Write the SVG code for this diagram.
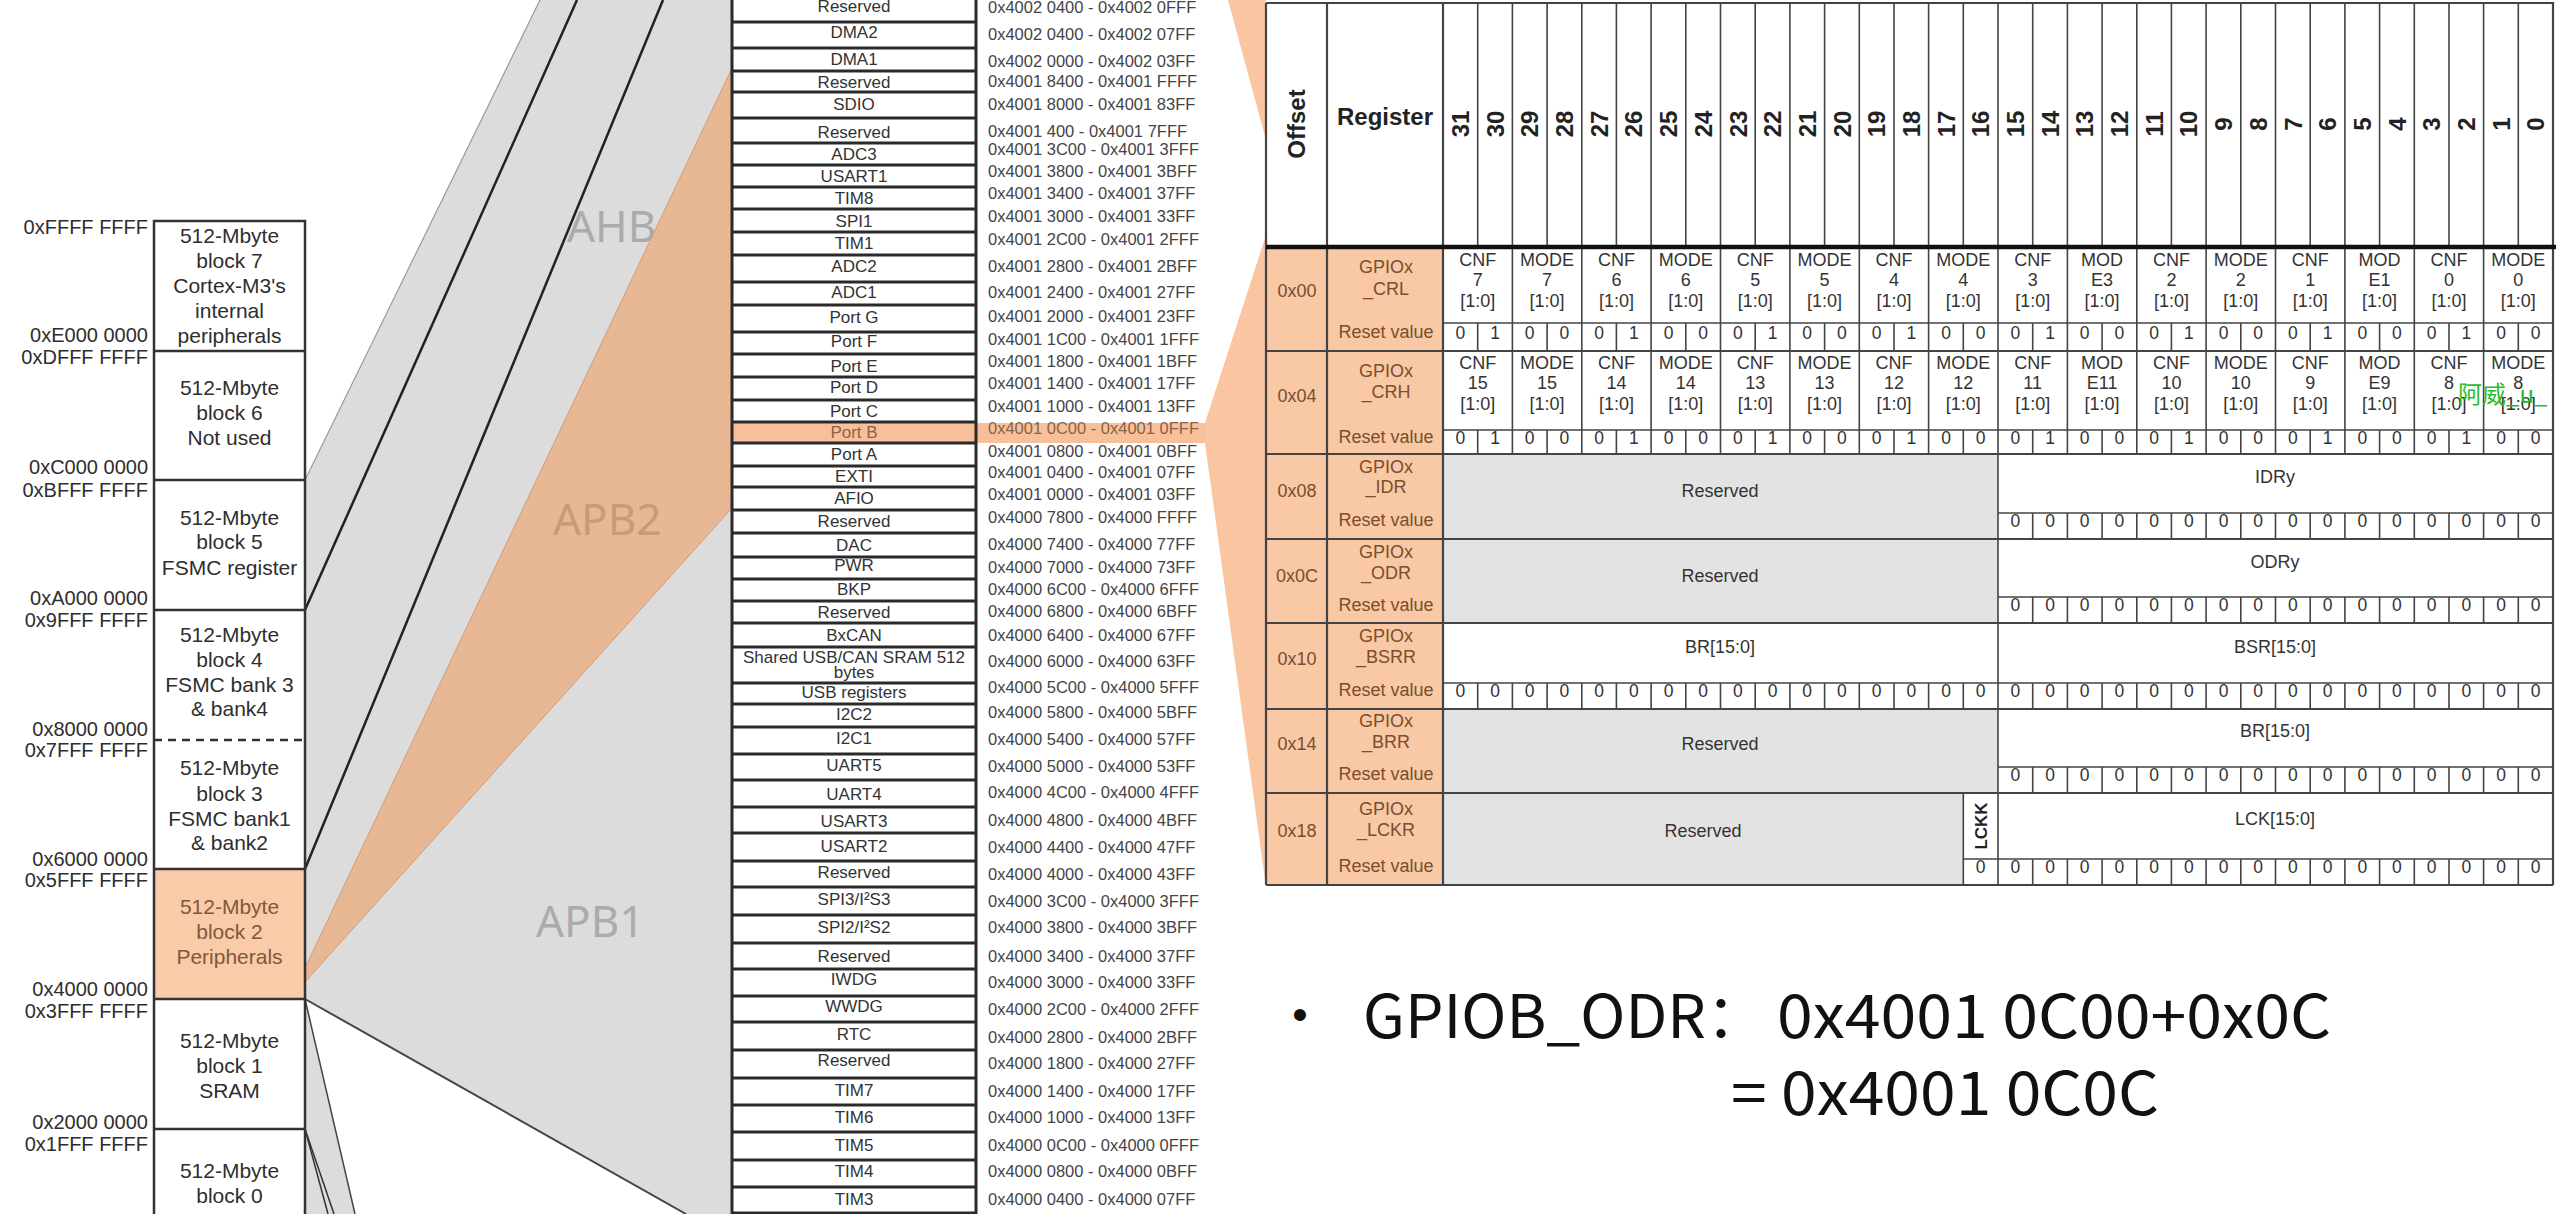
<svg xmlns="http://www.w3.org/2000/svg" width="2560" height="1214" viewBox="0 0 2560 1214">
<style>
text{font-family:"Liberation Sans",Arial,sans-serif}
.mm{font-size:21px;fill:#2e2e2e;text-anchor:middle}
.mb{font-size:21px;fill:#7f583c;text-anchor:middle}
.ma{font-size:20px;fill:#2e2e2e;text-anchor:end}
.bus{font-family:"Noto Sans","Open Sans",sans-serif;font-size:44px;fill:#ababab}
.pn{font-size:17px;fill:#333;text-anchor:middle}
.pa{font-size:16.5px;fill:#444}
.pb{font-size:17px;fill:#8a6246;text-anchor:middle}
.pab{font-size:16.5px;fill:#8a6246}
.rh{font-size:24px;font-weight:bold;fill:#222;text-anchor:middle}
.ft{font-size:18px;fill:#333;text-anchor:middle}
.br{font-size:18px;fill:#7a4e30;text-anchor:middle}
.rv{font-size:17.5px;fill:#333;text-anchor:middle}
.big{font-family:"Noto Sans CJK SC","Noto Sans",sans-serif;font-size:60px;fill:#111}
.tl{fill:none;stroke:#444;stroke-width:1.6}
.tr{fill:none;stroke:#444;stroke-width:2.2}
</style>
<rect width="2560" height="1214" fill="#fff"/>

<g id="bus-areas">
<polygon points="305,480 540,0 732,0 732,1214 686,1214 305,999" fill="#dcdcdc"/>
<polygon points="305,999 355,1214 305,1214" fill="#dcdcdc"/>
<text class="bus" x="567" y="242">AHB</text>
<text class="bus" x="536" y="937">APB1</text>
<polygon points="305,968 732,68 732,508 305,982" fill="#e8b794" stroke="#d39c76" stroke-width="1"/>
<text class="bus" x="553" y="535" style="fill:#c99b79">APB2</text>
</g>

<g id="connectors" fill="none">
<line x1="305" y1="480" x2="540" y2="0" stroke="#9a9a9a" stroke-width="1.2"/>
<line x1="305" y1="610" x2="577" y2="0" stroke="#222" stroke-width="2.5"/>
<line x1="305" y1="869" x2="663" y2="0" stroke="#222" stroke-width="2.5"/>
<line x1="305" y1="999" x2="686" y2="1214" stroke="#444" stroke-width="2"/>
<line x1="305" y1="999" x2="355" y2="1214" stroke="#444" stroke-width="1.5"/>
<line x1="305" y1="1129" x2="328" y2="1214" stroke="#333" stroke-width="1.5"/>
<line x1="305" y1="1129" x2="334" y2="1214" stroke="#333" stroke-width="1.5"/>
</g>

<g id="memory-map">
<rect x="154" y="869" width="151" height="130" fill="#facba9"/>
<path d="M154 1220V221H305V1220M154 351H305M154 480H305M154 610H305M154 869H305M154 999H305M154 1129H305" fill="none" stroke="#333" stroke-width="2.5"/>
<line x1="154" y1="740" x2="305" y2="740" stroke="#333" stroke-width="2.5" stroke-dasharray="8 6"/>
<g id="block7"><text class="mm" x="229.5" y="243">512-Mbyte</text><text class="mm" x="229.5" y="268">block 7</text><text class="mm" x="229.5" y="293">Cortex-M3's</text><text class="mm" x="229.5" y="318">internal</text><text class="mm" x="229.5" y="343">peripherals</text></g>
<g id="block6"><text class="mm" x="229.5" y="395">512-Mbyte</text><text class="mm" x="229.5" y="420">block 6</text><text class="mm" x="229.5" y="445">Not used</text></g>
<g id="block5"><text class="mm" x="229.5" y="525">512-Mbyte</text><text class="mm" x="229.5" y="549">block 5</text><text class="mm" x="229.5" y="575">FSMC register</text></g>
<g id="block4"><text class="mm" x="229.5" y="642">512-Mbyte</text><text class="mm" x="229.5" y="667">block 4</text><text class="mm" x="229.5" y="692">FSMC bank 3</text><text class="mm" x="229.5" y="716">&amp; bank4</text></g>
<g id="block3"><text class="mm" x="229.5" y="775">512-Mbyte</text><text class="mm" x="229.5" y="801">block 3</text><text class="mm" x="229.5" y="826">FSMC bank1</text><text class="mm" x="229.5" y="850">&amp; bank2</text></g>
<g id="block2"><text class="mb" x="229.5" y="914">512-Mbyte</text><text class="mb" x="229.5" y="939">block 2</text><text class="mb" x="229.5" y="964">Peripherals</text></g>
<g id="block1"><text class="mm" x="229.5" y="1048">512-Mbyte</text><text class="mm" x="229.5" y="1073">block 1</text><text class="mm" x="229.5" y="1098">SRAM</text></g>
<g id="block0"><text class="mm" x="229.5" y="1178">512-Mbyte</text><text class="mm" x="229.5" y="1203">block 0</text></g>
<g id="mem-addresses">
<text class="ma" x="148" y="234">0xFFFF FFFF</text>
<text class="ma" x="148" y="342">0xE000 0000</text><text class="ma" x="148" y="364">0xDFFF FFFF</text>
<text class="ma" x="148" y="474">0xC000 0000</text><text class="ma" x="148" y="497">0xBFFF FFFF</text>
<text class="ma" x="148" y="605">0xA000 0000</text><text class="ma" x="148" y="627">0x9FFF FFFF</text>
<text class="ma" x="148" y="736">0x8000 0000</text><text class="ma" x="148" y="757">0x7FFF FFFF</text>
<text class="ma" x="148" y="866">0x6000 0000</text><text class="ma" x="148" y="887">0x5FFF FFFF</text>
<text class="ma" x="148" y="996">0x4000 0000</text><text class="ma" x="148" y="1018">0x3FFF FFFF</text>
<text class="ma" x="148" y="1129">0x2000 0000</text><text class="ma" x="148" y="1151">0x1FFF FFFF</text>
</g>
</g>

<g id="peripheral-table">
<rect x="732" y="-5" width="244" height="1225" fill="#fff"/>
<rect x="732" y="423" width="475" height="20" fill="#f7c09b"/>
<path d="M732 22H976M732 48H976M732 71H976M732 92H976M732 118H976M732 143H976M732 165H976M732 187H976M732 209H976M732 232H976M732 255H976M732 282H976M732 305H976M732 332H976M732 354H976M732 377H976M732 400H976M732 422H976M732 443H976M732 466H976M732 487H976M732 510H976M732 533H976M732 557H976M732 579H976M732 601H976M732 623H976M732 647H976M732 683H976M732 704H976M732 727H976M732 754H976M732 780H976M732 807H976M732 833H976M732 861H976M732 887H976M732 915H976M732 943H976M732 969H976M732 996H976M732 1022H976M732 1050H976M732 1078H976M732 1105H976M732 1132H976M732 1160H976M732 1187H976M732 1213H976M732 -5V1220M976 -5V1220" fill="none" stroke="#2a2a2a" stroke-width="3"/>
<g id="periph-names">
<text class="pn" x="854" y="12">Reserved</text>
<text class="pn" x="854" y="38">DMA2</text>
<text class="pn" x="854" y="65">DMA1</text>
<text class="pn" x="854" y="88">Reserved</text>
<text class="pn" x="854" y="110">SDIO</text>
<text class="pn" x="854" y="138">Reserved</text>
<text class="pn" x="854" y="160">ADC3</text>
<text class="pn" x="854" y="182">USART1</text>
<text class="pn" x="854" y="204">TIM8</text>
<text class="pn" x="854" y="227">SPI1</text>
<text class="pn" x="854" y="249">TIM1</text>
<text class="pn" x="854" y="272">ADC2</text>
<text class="pn" x="854" y="298">ADC1</text>
<text class="pn" x="854" y="323">Port G</text>
<text class="pn" x="854" y="347">Port F</text>
<text class="pn" x="854" y="372">Port E</text>
<text class="pn" x="854" y="393">Port D</text>
<text class="pn" x="854" y="417">Port C</text>
<text class="pb" x="854" y="438">Port B</text>
<text class="pn" x="854" y="460">Port A</text>
<text class="pn" x="854" y="482">EXTI</text>
<text class="pn" x="854" y="504">AFIO</text>
<text class="pn" x="854" y="527">Reserved</text>
<text class="pn" x="854" y="551">DAC</text>
<text class="pn" x="854" y="571">PWR</text>
<text class="pn" x="854" y="595">BKP</text>
<text class="pn" x="854" y="618">Reserved</text>
<text class="pn" x="854" y="641">BxCAN</text>
<text class="pn" x="854" y="663">Shared USB/CAN SRAM 512</text>
<text class="pn" x="854" y="678">bytes</text>
<text class="pn" x="854" y="698">USB registers</text>
<text class="pn" x="854" y="720">I2C2</text>
<text class="pn" x="854" y="744">I2C1</text>
<text class="pn" x="854" y="771">UART5</text>
<text class="pn" x="854" y="800">UART4</text>
<text class="pn" x="854" y="827">USART3</text>
<text class="pn" x="854" y="852">USART2</text>
<text class="pn" x="854" y="878">Reserved</text>
<text class="pn" x="854" y="905">SPI3/I²S3</text>
<text class="pn" x="854" y="933">SPI2/I²S2</text>
<text class="pn" x="854" y="962">Reserved</text>
<text class="pn" x="854" y="985">IWDG</text>
<text class="pn" x="854" y="1012">WWDG</text>
<text class="pn" x="854" y="1040">RTC</text>
<text class="pn" x="854" y="1066">Reserved</text>
<text class="pn" x="854" y="1096">TIM7</text>
<text class="pn" x="854" y="1123">TIM6</text>
<text class="pn" x="854" y="1151">TIM5</text>
<text class="pn" x="854" y="1177">TIM4</text>
<text class="pn" x="854" y="1205">TIM3</text>
</g>
<g id="periph-addresses">
<text class="pa" x="988" y="13">0x4002 0400 - 0x4002 0FFF</text>
<text class="pa" x="988" y="40">0x4002 0400 - 0x4002 07FF</text>
<text class="pa" x="988" y="67">0x4002 0000 - 0x4002 03FF</text>
<text class="pa" x="988" y="87">0x4001 8400 - 0x4001 FFFF</text>
<text class="pa" x="988" y="110">0x4001 8000 - 0x4001 83FF</text>
<text class="pa" x="988" y="137">0x4001 400 - 0x4001 7FFF</text>
<text class="pa" x="988" y="155">0x4001 3C00 - 0x4001 3FFF</text>
<text class="pa" x="988" y="177">0x4001 3800 - 0x4001 3BFF</text>
<text class="pa" x="988" y="199">0x4001 3400 - 0x4001 37FF</text>
<text class="pa" x="988" y="222">0x4001 3000 - 0x4001 33FF</text>
<text class="pa" x="988" y="245">0x4001 2C00 - 0x4001 2FFF</text>
<text class="pa" x="988" y="272">0x4001 2800 - 0x4001 2BFF</text>
<text class="pa" x="988" y="298">0x4001 2400 - 0x4001 27FF</text>
<text class="pa" x="988" y="322">0x4001 2000 - 0x4001 23FF</text>
<text class="pa" x="988" y="345">0x4001 1C00 - 0x4001 1FFF</text>
<text class="pa" x="988" y="367">0x4001 1800 - 0x4001 1BFF</text>
<text class="pa" x="988" y="389">0x4001 1400 - 0x4001 17FF</text>
<text class="pa" x="988" y="412">0x4001 1000 - 0x4001 13FF</text>
<text class="pab" x="988" y="434">0x4001 0C00 - 0x4001 0FFF</text>
<text class="pa" x="988" y="457">0x4001 0800 - 0x4001 0BFF</text>
<text class="pa" x="988" y="478">0x4001 0400 - 0x4001 07FF</text>
<text class="pa" x="988" y="500">0x4001 0000 - 0x4001 03FF</text>
<text class="pa" x="988" y="523">0x4000 7800 - 0x4000 FFFF</text>
<text class="pa" x="988" y="550">0x4000 7400 - 0x4000 77FF</text>
<text class="pa" x="988" y="573">0x4000 7000 - 0x4000 73FF</text>
<text class="pa" x="988" y="595">0x4000 6C00 - 0x4000 6FFF</text>
<text class="pa" x="988" y="617">0x4000 6800 - 0x4000 6BFF</text>
<text class="pa" x="988" y="641">0x4000 6400 - 0x4000 67FF</text>
<text class="pa" x="988" y="667">0x4000 6000 - 0x4000 63FF</text>
<text class="pa" x="988" y="693">0x4000 5C00 - 0x4000 5FFF</text>
<text class="pa" x="988" y="718">0x4000 5800 - 0x4000 5BFF</text>
<text class="pa" x="988" y="745">0x4000 5400 - 0x4000 57FF</text>
<text class="pa" x="988" y="772">0x4000 5000 - 0x4000 53FF</text>
<text class="pa" x="988" y="798">0x4000 4C00 - 0x4000 4FFF</text>
<text class="pa" x="988" y="826">0x4000 4800 - 0x4000 4BFF</text>
<text class="pa" x="988" y="853">0x4000 4400 - 0x4000 47FF</text>
<text class="pa" x="988" y="880">0x4000 4000 - 0x4000 43FF</text>
<text class="pa" x="988" y="907">0x4000 3C00 - 0x4000 3FFF</text>
<text class="pa" x="988" y="933">0x4000 3800 - 0x4000 3BFF</text>
<text class="pa" x="988" y="962">0x4000 3400 - 0x4000 37FF</text>
<text class="pa" x="988" y="988">0x4000 3000 - 0x4000 33FF</text>
<text class="pa" x="988" y="1015">0x4000 2C00 - 0x4000 2FFF</text>
<text class="pa" x="988" y="1043">0x4000 2800 - 0x4000 2BFF</text>
<text class="pa" x="988" y="1069">0x4000 1800 - 0x4000 27FF</text>
<text class="pa" x="988" y="1097">0x4000 1400 - 0x4000 17FF</text>
<text class="pa" x="988" y="1123">0x4000 1000 - 0x4000 13FF</text>
<text class="pa" x="988" y="1151">0x4000 0C00 - 0x4000 0FFF</text>
<text class="pa" x="988" y="1177">0x4000 0800 - 0x4000 0BFF</text>
<text class="pa" x="988" y="1205">0x4000 0400 - 0x4000 07FF</text>
</g>
</g>

<g id="portb-funnel">
<polygon points="1205,423 1266,235 1266,887 1205,443" fill="#f9c6a1"/>
<polygon points="1228,0 1266,0 1266,140" fill="#f9c6a1"/>
</g>

<g id="register-table">
<rect x="1266" y="3" width="1287" height="882" fill="#fff"/>
<rect x="1266" y="247" width="177" height="638" fill="#f9c8a4"/>
<rect x="1443" y="454" width="555" height="85" fill="#e3e3e3"/>
<rect x="1443" y="539" width="555" height="84" fill="#e3e3e3"/>
<rect x="1443" y="709" width="555" height="84" fill="#e3e3e3"/>
<rect x="1443" y="793" width="520.3" height="92" fill="#e3e3e3"/>
<path class="tl" d="M1477.7 3V247M1512.4 3V247M1547.1 3V247M1581.8 3V247M1616.4 3V247M1651.1 3V247M1685.8 3V247M1720.5 3V247M1755.2 3V247M1789.9 3V247M1824.6 3V247M1859.3 3V247M1894 3V247M1928.6 3V247M1963.3 3V247M1998 3V247M2032.7 3V247M2067.4 3V247M2102.1 3V247M2136.8 3V247M2171.4 3V247M2206.1 3V247M2240.8 3V247M2275.5 3V247M2310.2 3V247M2344.9 3V247M2379.6 3V247M2414.3 3V247M2449 3V247M2483.6 3V247M2518.3 3V247"/>
<path class="tl" d="M1512.4 247V454M1581.8 247V454M1651.1 247V454M1720.5 247V454M1789.9 247V454M1859.3 247V454M1928.6 247V454M1998 247V454M2067.4 247V454M2136.8 247V454M2206.1 247V454M2275.5 247V454M2344.9 247V454M2414.3 247V454M2483.6 247V454"/>
<path class="tl" d="M1477.7 323V351M1547.1 323V351M1616.4 323V351M1685.8 323V351M1755.2 323V351M1824.6 323V351M1894 323V351M1963.3 323V351M2032.7 323V351M2102.1 323V351M2171.4 323V351M2240.8 323V351M2310.2 323V351M2379.6 323V351M2449 323V351M2518.3 323V351M1477.7 430V454M1547.1 430V454M1616.4 430V454M1685.8 430V454M1755.2 430V454M1824.6 430V454M1894 430V454M1963.3 430V454M2032.7 430V454M2102.1 430V454M2171.4 430V454M2240.8 430V454M2310.2 430V454M2379.6 430V454M2449 430V454M2518.3 430V454"/>
<path class="tl" d="M1998 454V885M1963.3 793V885M1477.7 683v26M1512.4 683v26M1547.1 683v26M1581.8 683v26M1616.4 683v26M1651.1 683v26M1685.8 683v26M1720.5 683v26M1755.2 683v26M1789.9 683v26M1824.6 683v26M1859.3 683v26M1894 683v26M1928.6 683v26M1963.3 683v26"/>
<path class="tl" d="M2032.7 513v26M2032.7 597v26M2032.7 683v26M2032.7 767v26M2032.7 859v26M2067.4 513v26M2067.4 597v26M2067.4 683v26M2067.4 767v26M2067.4 859v26M2102.1 513v26M2102.1 597v26M2102.1 683v26M2102.1 767v26M2102.1 859v26M2136.8 513v26M2136.8 597v26M2136.8 683v26M2136.8 767v26M2136.8 859v26M2171.4 513v26M2171.4 597v26M2171.4 683v26M2171.4 767v26M2171.4 859v26M2206.1 513v26M2206.1 597v26M2206.1 683v26M2206.1 767v26M2206.1 859v26M2240.8 513v26M2240.8 597v26M2240.8 683v26M2240.8 767v26M2240.8 859v26M2275.5 513v26M2275.5 597v26M2275.5 683v26M2275.5 767v26M2275.5 859v26M2310.2 513v26M2310.2 597v26M2310.2 683v26M2310.2 767v26M2310.2 859v26M2344.9 513v26M2344.9 597v26M2344.9 683v26M2344.9 767v26M2344.9 859v26M2379.6 513v26M2379.6 597v26M2379.6 683v26M2379.6 767v26M2379.6 859v26M2414.3 513v26M2414.3 597v26M2414.3 683v26M2414.3 767v26M2414.3 859v26M2449 513v26M2449 597v26M2449 683v26M2449 767v26M2449 859v26M2483.6 513v26M2483.6 597v26M2483.6 683v26M2483.6 767v26M2483.6 859v26M2518.3 513v26M2518.3 597v26M2518.3 683v26M2518.3 767v26M2518.3 859v26"/>
<path class="tl" d="M1443 323H2553M1443 430H2553M1998 513H2553M1998 597H2553M1443 683H2553M1998 767H2553M1963.3 859H2553"/>
<path class="tr" d="M1266 351H2553M1266 454H2553M1266 539H2553M1266 623H2553M1266 709H2553M1266 793H2553M1266 885H2553"/>
<path class="tr" d="M1266 3H2553V885M1266 3V885M1327 3V885M1443 3V885"/>
<line x1="1266" y1="247" x2="2556" y2="247" stroke="#111" stroke-width="4.5"/>

<g id="reg-header">
<text class="rh" transform="translate(1305 124) rotate(-90)">Offset</text>
<text class="rh" x="1385" y="125">Register</text>
<text class="rh" transform="translate(1468.9 124) rotate(-90)">31</text>
<text class="rh" transform="translate(1503.6 124) rotate(-90)">30</text>
<text class="rh" transform="translate(1538.3 124) rotate(-90)">29</text>
<text class="rh" transform="translate(1573 124) rotate(-90)">28</text>
<text class="rh" transform="translate(1607.7 124) rotate(-90)">27</text>
<text class="rh" transform="translate(1642.4 124) rotate(-90)">26</text>
<text class="rh" transform="translate(1677.1 124) rotate(-90)">25</text>
<text class="rh" transform="translate(1711.8 124) rotate(-90)">24</text>
<text class="rh" transform="translate(1746.5 124) rotate(-90)">23</text>
<text class="rh" transform="translate(1781.1 124) rotate(-90)">22</text>
<text class="rh" transform="translate(1815.8 124) rotate(-90)">21</text>
<text class="rh" transform="translate(1850.5 124) rotate(-90)">20</text>
<text class="rh" transform="translate(1885.2 124) rotate(-90)">19</text>
<text class="rh" transform="translate(1919.9 124) rotate(-90)">18</text>
<text class="rh" transform="translate(1954.6 124) rotate(-90)">17</text>
<text class="rh" transform="translate(1989.3 124) rotate(-90)">16</text>
<text class="rh" transform="translate(2023.9 124) rotate(-90)">15</text>
<text class="rh" transform="translate(2058.6 124) rotate(-90)">14</text>
<text class="rh" transform="translate(2093.3 124) rotate(-90)">13</text>
<text class="rh" transform="translate(2128 124) rotate(-90)">12</text>
<text class="rh" transform="translate(2162.7 124) rotate(-90)">11</text>
<text class="rh" transform="translate(2197.4 124) rotate(-90)">10</text>
<text class="rh" transform="translate(2232.1 124) rotate(-90)">9</text>
<text class="rh" transform="translate(2266.8 124) rotate(-90)">8</text>
<text class="rh" transform="translate(2301.5 124) rotate(-90)">7</text>
<text class="rh" transform="translate(2336.2 124) rotate(-90)">6</text>
<text class="rh" transform="translate(2370.9 124) rotate(-90)">5</text>
<text class="rh" transform="translate(2405.5 124) rotate(-90)">4</text>
<text class="rh" transform="translate(2440.2 124) rotate(-90)">3</text>
<text class="rh" transform="translate(2474.9 124) rotate(-90)">2</text>
<text class="rh" transform="translate(2509.6 124) rotate(-90)">1</text>
<text class="rh" transform="translate(2544.3 124) rotate(-90)">0</text>
</g>

<g id="reg-crl">
<text class="br" x="1297" y="297">0x00</text>
<text class="br" x="1386" y="273">GPIOx<tspan x="1386" dy="22">_CRL</tspan></text>
<text class="br" x="1386" y="338">Reset value</text>
<text class="ft" x="1477.7" y="266">CNF<tspan x="1477.7" dy="20">7</tspan><tspan x="1477.7" dy="21">[1:0]</tspan></text>
<text class="ft" x="1547.1" y="266">MODE<tspan x="1547.1" dy="20">7</tspan><tspan x="1547.1" dy="21">[1:0]</tspan></text>
<text class="ft" x="1616.4" y="266">CNF<tspan x="1616.4" dy="20">6</tspan><tspan x="1616.4" dy="21">[1:0]</tspan></text>
<text class="ft" x="1685.8" y="266">MODE<tspan x="1685.8" dy="20">6</tspan><tspan x="1685.8" dy="21">[1:0]</tspan></text>
<text class="ft" x="1755.2" y="266">CNF<tspan x="1755.2" dy="20">5</tspan><tspan x="1755.2" dy="21">[1:0]</tspan></text>
<text class="ft" x="1824.6" y="266">MODE<tspan x="1824.6" dy="20">5</tspan><tspan x="1824.6" dy="21">[1:0]</tspan></text>
<text class="ft" x="1894" y="266">CNF<tspan x="1894" dy="20">4</tspan><tspan x="1894" dy="21">[1:0]</tspan></text>
<text class="ft" x="1963.3" y="266">MODE<tspan x="1963.3" dy="20">4</tspan><tspan x="1963.3" dy="21">[1:0]</tspan></text>
<text class="ft" x="2032.7" y="266">CNF<tspan x="2032.7" dy="20">3</tspan><tspan x="2032.7" dy="21">[1:0]</tspan></text>
<text class="ft" x="2102.1" y="266">MOD<tspan x="2102.1" dy="20">E3</tspan><tspan x="2102.1" dy="21">[1:0]</tspan></text>
<text class="ft" x="2171.4" y="266">CNF<tspan x="2171.4" dy="20">2</tspan><tspan x="2171.4" dy="21">[1:0]</tspan></text>
<text class="ft" x="2240.8" y="266">MODE<tspan x="2240.8" dy="20">2</tspan><tspan x="2240.8" dy="21">[1:0]</tspan></text>
<text class="ft" x="2310.2" y="266">CNF<tspan x="2310.2" dy="20">1</tspan><tspan x="2310.2" dy="21">[1:0]</tspan></text>
<text class="ft" x="2379.6" y="266">MOD<tspan x="2379.6" dy="20">E1</tspan><tspan x="2379.6" dy="21">[1:0]</tspan></text>
<text class="ft" x="2449" y="266">CNF<tspan x="2449" dy="20">0</tspan><tspan x="2449" dy="21">[1:0]</tspan></text>
<text class="ft" x="2518.3" y="266">MODE<tspan x="2518.3" dy="20">0</tspan><tspan x="2518.3" dy="21">[1:0]</tspan></text>
<text class="rv" x="1460.3 1495 1529.7 1564.4 1599.1 1633.8 1668.5 1703.2 1737.9 1772.5 1807.2 1841.9 1876.6 1911.3 1946 1980.7 2015.3 2050 2084.7 2119.4 2154.1 2188.8 2223.5 2258.2 2292.9 2327.6 2362.3 2396.9 2431.6 2466.3 2501 2535.7" y="339">01000100010001000100010001000100</text>
</g>

<g id="reg-crh">
<text class="br" x="1297" y="402">0x04</text>
<text class="br" x="1386" y="377">GPIOx<tspan x="1386" dy="21">_CRH</tspan></text>
<text class="br" x="1386" y="443">Reset value</text>
<text class="ft" x="1477.7" y="369">CNF<tspan x="1477.7" dy="20">15</tspan><tspan x="1477.7" dy="21">[1:0]</tspan></text>
<text class="ft" x="1547.1" y="369">MODE<tspan x="1547.1" dy="20">15</tspan><tspan x="1547.1" dy="21">[1:0]</tspan></text>
<text class="ft" x="1616.4" y="369">CNF<tspan x="1616.4" dy="20">14</tspan><tspan x="1616.4" dy="21">[1:0]</tspan></text>
<text class="ft" x="1685.8" y="369">MODE<tspan x="1685.8" dy="20">14</tspan><tspan x="1685.8" dy="21">[1:0]</tspan></text>
<text class="ft" x="1755.2" y="369">CNF<tspan x="1755.2" dy="20">13</tspan><tspan x="1755.2" dy="21">[1:0]</tspan></text>
<text class="ft" x="1824.6" y="369">MODE<tspan x="1824.6" dy="20">13</tspan><tspan x="1824.6" dy="21">[1:0]</tspan></text>
<text class="ft" x="1894" y="369">CNF<tspan x="1894" dy="20">12</tspan><tspan x="1894" dy="21">[1:0]</tspan></text>
<text class="ft" x="1963.3" y="369">MODE<tspan x="1963.3" dy="20">12</tspan><tspan x="1963.3" dy="21">[1:0]</tspan></text>
<text class="ft" x="2032.7" y="369">CNF<tspan x="2032.7" dy="20">11</tspan><tspan x="2032.7" dy="21">[1:0]</tspan></text>
<text class="ft" x="2102.1" y="369">MOD<tspan x="2102.1" dy="20">E11</tspan><tspan x="2102.1" dy="21">[1:0]</tspan></text>
<text class="ft" x="2171.4" y="369">CNF<tspan x="2171.4" dy="20">10</tspan><tspan x="2171.4" dy="21">[1:0]</tspan></text>
<text class="ft" x="2240.8" y="369">MODE<tspan x="2240.8" dy="20">10</tspan><tspan x="2240.8" dy="21">[1:0]</tspan></text>
<text class="ft" x="2310.2" y="369">CNF<tspan x="2310.2" dy="20">9</tspan><tspan x="2310.2" dy="21">[1:0]</tspan></text>
<text class="ft" x="2379.6" y="369">MOD<tspan x="2379.6" dy="20">E9</tspan><tspan x="2379.6" dy="21">[1:0]</tspan></text>
<text class="ft" x="2449" y="369">CNF<tspan x="2449" dy="20">8</tspan><tspan x="2449" dy="21">[1:0]</tspan></text>
<text class="ft" x="2518.3" y="369">MODE<tspan x="2518.3" dy="20">8</tspan><tspan x="2518.3" dy="21">[1:0]</tspan></text>
<text class="rv" x="1460.3 1495 1529.7 1564.4 1599.1 1633.8 1668.5 1703.2 1737.9 1772.5 1807.2 1841.9 1876.6 1911.3 1946 1980.7 2015.3 2050 2084.7 2119.4 2154.1 2188.8 2223.5 2258.2 2292.9 2327.6 2362.3 2396.9 2431.6 2466.3 2501 2535.7" y="444">01000100010001000100010001000100</text>
</g>

<g id="reg-idr">
<text class="br" x="1297" y="497">0x08</text>
<text class="br" x="1386" y="473">GPIOx<tspan x="1386" dy="20">_IDR</tspan></text>
<text class="br" x="1386" y="526">Reset value</text>
<text class="ft" x="1720" y="497">Reserved</text>
<text class="ft" x="2275" y="483">IDRy</text>
<text class="rv" x="2015.3 2050 2084.7 2119.4 2154.1 2188.8 2223.5 2258.2 2292.9 2327.6 2362.3 2396.9 2431.6 2466.3 2501 2535.7" y="527">0000000000000000</text>
</g>

<g id="reg-odr">
<text class="br" x="1297" y="582">0x0C</text>
<text class="br" x="1386" y="558">GPIOx<tspan x="1386" dy="21">_ODR</tspan></text>
<text class="br" x="1386" y="611">Reset value</text>
<text class="ft" x="1720" y="582">Reserved</text>
<text class="ft" x="2275" y="568">ODRy</text>
<text class="rv" x="2015.3 2050 2084.7 2119.4 2154.1 2188.8 2223.5 2258.2 2292.9 2327.6 2362.3 2396.9 2431.6 2466.3 2501 2535.7" y="611">0000000000000000</text>
</g>

<g id="reg-bsrr">
<text class="br" x="1297" y="665">0x10</text>
<text class="br" x="1386" y="642">GPIOx<tspan x="1386" dy="21">_BSRR</tspan></text>
<text class="br" x="1386" y="696">Reset value</text>
<text class="ft" x="1720" y="653">BR[15:0]</text>
<text class="ft" x="2275" y="653">BSR[15:0]</text>
<text class="rv" x="1460.3 1495 1529.7 1564.4 1599.1 1633.8 1668.5 1703.2 1737.9 1772.5 1807.2 1841.9 1876.6 1911.3 1946 1980.7 2015.3 2050 2084.7 2119.4 2154.1 2188.8 2223.5 2258.2 2292.9 2327.6 2362.3 2396.9 2431.6 2466.3 2501 2535.7" y="697">00000000000000000000000000000000</text>
</g>

<g id="reg-brr">
<text class="br" x="1297" y="750">0x14</text>
<text class="br" x="1386" y="727">GPIOx<tspan x="1386" dy="21">_BRR</tspan></text>
<text class="br" x="1386" y="780">Reset value</text>
<text class="ft" x="1720" y="750">Reserved</text>
<text class="ft" x="2275" y="737">BR[15:0]</text>
<text class="rv" x="2015.3 2050 2084.7 2119.4 2154.1 2188.8 2223.5 2258.2 2292.9 2327.6 2362.3 2396.9 2431.6 2466.3 2501 2535.7" y="781">0000000000000000</text>
</g>

<g id="reg-lckr">
<text class="br" x="1297" y="837">0x18</text>
<text class="br" x="1386" y="815">GPIOx<tspan x="1386" dy="21">_LCKR</tspan></text>
<text class="br" x="1386" y="872">Reset value</text>
<text class="ft" x="1703" y="837">Reserved</text>
<text class="rh" style="font-size:17px" transform="translate(1987 826) rotate(-90)">LCKK</text>
<text class="ft" x="2275" y="825">LCK[15:0]</text>
<text class="rv" x="1980.7 2015.3 2050 2084.7 2119.4 2154.1 2188.8 2223.5 2258.2 2292.9 2327.6 2362.3 2396.9 2431.6 2466.3 2501 2535.7" y="873">00000000000000000</text>
</g>
</g>

<text x="2458" y="403" style="font-family:'Noto Sans CJK SC','Noto Sans',sans-serif;font-size:24px;fill:#2dbb2d">阿威_u_</text>

<g id="formula">
<text x="1300" y="1030" style="font-size:44px;fill:#111;text-anchor:middle">•</text>
<text class="big" x="1363" y="1038" textLength="343" lengthAdjust="spacingAndGlyphs">GPIOB_ODR</text>
<text class="big" x="1706" y="1038">：</text>
<text class="big" x="1777" y="1038" textLength="554" lengthAdjust="spacingAndGlyphs">0x4001 0C00+0x0C</text>
<text class="big" x="1731" y="1115" textLength="428" lengthAdjust="spacingAndGlyphs">= 0x4001 0C0C</text>
</g>
</svg>
